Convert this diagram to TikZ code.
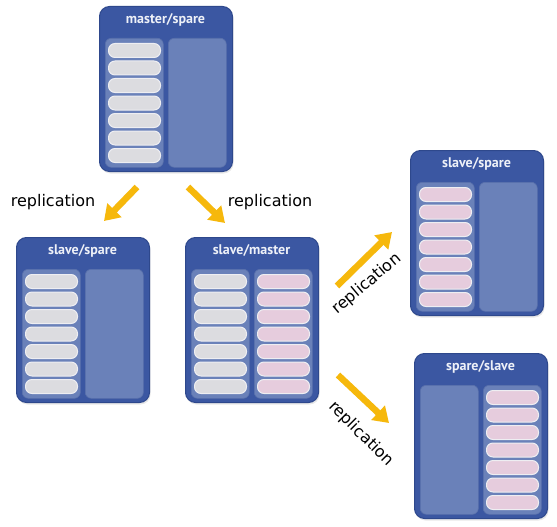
\documentclass[tikz,border=0pt]{standalone}
\usepackage{fontspec}
\setmainfont{DejaVu Sans}
\newfontfamily\titlefont{PT Sans}
\usetikzlibrary{arrows.meta,shadows}
\definecolor{boxblue}{HTML}{3B57A2}
\definecolor{boxedge}{HTML}{2E488C}
\definecolor{panelblue}{HTML}{6A81B9}
\definecolor{paneledge}{HTML}{5A71AC}
\definecolor{pillgray}{HTML}{DCDCE0}
\definecolor{pillpink}{HTML}{E6CCDD}
\definecolor{pilledge}{HTML}{EEEEF2}
\definecolor{arrowyellow}{HTML}{F6B80C}
\definecolor{titlewhite}{HTML}{EEF1F8}
\tikzset{
  dbouter/.style={draw=boxedge, line width=1pt, fill=boxblue, rounded corners=10pt,
    minimum width=133pt, minimum height=165pt, anchor=north west, inner sep=0pt,
    drop shadow={opacity=0.18, shadow xshift=1pt, shadow yshift=-2pt}},
  dbpanel/.style={draw=paneledge, line width=0.6pt, fill=panelblue, rounded corners=6pt,
    minimum width=58pt, minimum height=129pt, anchor=north west, inner sep=0pt},
  pillbase/.style={draw=pilledge, line width=1pt, rounded corners=6.5pt,
    minimum width=52pt, minimum height=14pt, anchor=north west, inner sep=0pt},
  pillg/.style={pillbase, fill=pillgray},
  pillp/.style={pillbase, fill=pillpink},
  dbtitle/.style={text=titlewhite, font=\titlefont\bfseries\fontsize{14}{16}\selectfont, inner sep=0pt},
  repl/.style={-{Triangle[width=19pt,length=15pt]}, draw=arrowyellow, line width=6.5pt},
  repllabel/.style={font=\fontsize{16}{18}\selectfont, text=black, inner sep=0pt},
}
% panel: name, x, y, kind (0 empty, 1 gray pills, 2 pink pills)
\newcommand{\dbpanelat}[4]{%
  \node[dbpanel] (#1) at (#2,#3) {};
  \ifcase#4\relax
  \or \foreach \i in {0,...,6} {\node[pillg] (#1-\i) at ({#2+3},{#3+5+\i*17.5}) {};}
  \or \foreach \i in {0,...,6} {\node[pillp] (#1-\i) at ({#2+3},{#3+5+\i*17.5}) {};}
  \fi
}
% box: name, x, y, title, left kind, right kind
\newcommand{\dbboxat}[6]{%
  \node[dbouter] (#1) at (#2,#3) {};
  \node[dbtitle] (#1-t) at ({#2+66.5},{#3+13.5}) {#4};
  \dbpanelat{#1-l}{#2+6}{#3+32}{#5}
  \dbpanelat{#1-r}{#2+69}{#3+32}{#6}
}
\begin{document}
\begin{tikzpicture}[x=1pt,y=-1pt]
\useasboundingbox[fill=white] (0,0) rectangle (557,527);
\dbboxat{ms}{99}{6}{master/spare}{1}{0}
\dbboxat{ss}{16}{237}{slave/spare}{1}{0}
\dbboxat{sm}{185}{237}{slave/master}{1}{2}
\dbboxat{ss2}{410}{150}{slave/spare}{2}{0}
\dbboxat{sp}{414}{353}{spare/slave}{0}{2}
% arrow end points
\coordinate (a1s) at (137,187); \coordinate (a1e) at (104,221);
\coordinate (a2s) at (188,187); \coordinate (a2e) at (225,223);
\coordinate (a3s) at (337,286); \coordinate (a3e) at (392,232);
\coordinate (a4s) at (338,375); \coordinate (a4e) at (389,423);
\draw[repl] (a1s) -- (a1e);
\draw[repl] (a2s) -- (a2e);
\draw[repl] (a3s) -- (a3e);
\draw[repl] (a4s) -- (a4e);
\node[repllabel] (l1) at (53,202) {replication};
\node[repllabel] (l2) at (270,202) {replication};
\node[repllabel, rotate=40] (l3) at (367,284) {replication};
\node[repllabel, rotate=-45] (l4) at (361,434) {replication};
\end{tikzpicture}
\end{document}
